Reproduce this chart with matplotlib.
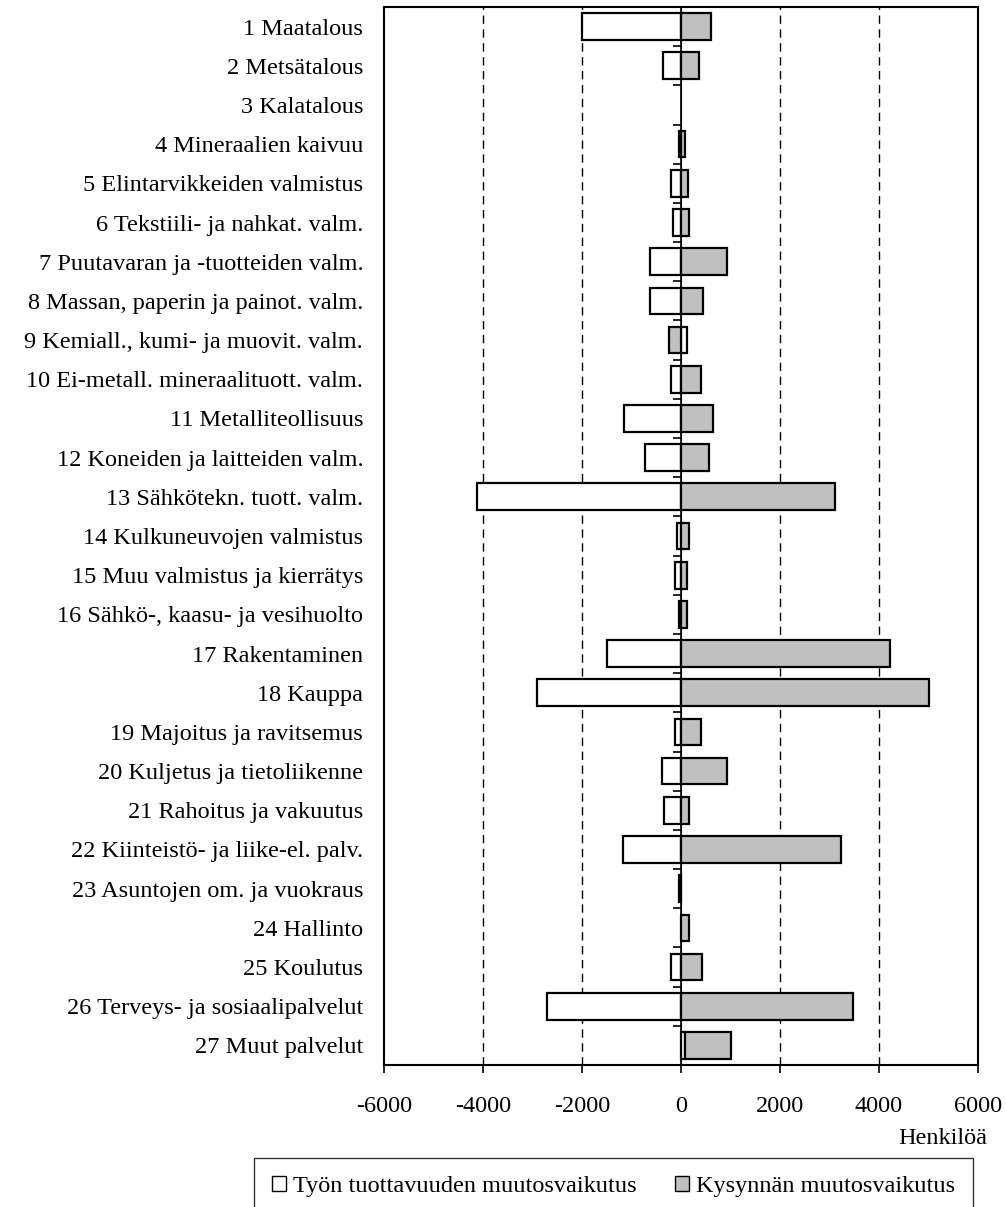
import numpy as np
import matplotlib
matplotlib.use('Agg')
import matplotlib.pyplot as plt
from matplotlib.patches import Patch

#------------------------------------------------------------------------------
# DATA
#------------------------------------------------------------------------------

categories = ['1 Maatalous', '2 Metsätalous', '3 Kalatalous', '4 Mineraalien kaivuu',
              '5 Elintarvikkeiden valmistus', '6 Tekstiili- ja nahkat. valm.',
              '7 Puutavaran ja -tuotteiden valm.', '8 Massan, paperin ja painot. valm.',
              '9 Kemiall., kumi- ja muovit. valm.', '10 Ei-metall. mineraalituott. valm.',
              '11 Metalliteollisuus', '12 Koneiden ja laitteiden valm.',
              '13 Sähkötekn. tuott. valm.', '14 Kulkuneuvojen valmistus',
              '15 Muu valmistus ja kierrätys', '16 Sähkö-, kaasu- ja vesihuolto',
              '17 Rakentaminen', '18 Kauppa', '19 Majoitus ja ravitsemus',
              '20 Kuljetus ja tietoliikenne', '21 Rahoitus ja vakuutus',
              '22 Kiinteistö- ja liike-el. palv.', '23 Asuntojen om. ja vuokraus',
              '24 Hallinto', '25 Koulutus', '26 Terveys- ja sosiaalipalvelut',
              '27 Muut palvelut']

# tyon tuottavuuden muutosvaikutus (white)
productivity = [-2000, -367, 0, -48, -211, -170, -619, -619, 127, -207,
                -1160, -727, -4127, -88, -129, -48, -1490, -2900, -128, -375,
                -335, -1173, -50, 0, -211, -2713, 82]
# kysynnan muutosvaikutus (gray)
demand = [600, 367, 0, 88, 136, 163, 927, 449, -247, 407,
          640, 571, 3102, 170, 129, 129, 4230, 5000, 400, 934,
          160, 3232, 0, 170, 415, 3472, 926]

xticks = [-6000, -4000, -2000, 0, 2000, 4000, 6000]
labels_legend = ['Työn tuottavuuden muutosvaikutus', 'Kysynnän muutosvaikutus']

#------------------------------------------------------------------------------
# PLOT
#------------------------------------------------------------------------------

plt.rcParams['font.family'] = ['Liberation Serif', 'DejaVu Serif']
fs = 17.5

W, H = 1006, 1207
fig = plt.figure(figsize=(W/100, H/100), dpi=100)
ax = fig.add_axes([384/W, 1-1065/H, 594/W, 1058/H])

p = np.array(productivity, dtype=float)
d = np.array(demand, dtype=float)
y = np.arange(len(categories))

# excel-style stacking: same-sign values stack, opposite signs start from 0
d_left = np.where(np.sign(p) == np.sign(d), p, 0.0)

lw_p = np.where(p == 0, 0.0, 1.6)
lw_d = np.where(d == 0, 0.0, 1.6)
ax.barh(y, p, height=0.68, color='white', edgecolor='black', linewidth=lw_p, zorder=3)
ax.barh(y, d, left=d_left, height=0.68, color='#c0c0c0', edgecolor='black', linewidth=lw_d, zorder=3)

ax.set_xlim(-6000, 6000)
ax.set_ylim(len(categories)-0.5, -0.5)

# grid
for xv in xticks[1:-1]:
    if xv != 0:
        ax.axvline(xv, color='black', lw=1.0, ls=(0, (6, 4)), zorder=1)
ax.axvline(0, color='black', lw=1.2, zorder=4)

ax.set_xticks(xticks)
ax.set_xticklabels([str(v) for v in xticks], fontsize=fs)
ax.tick_params(axis='x', direction='out', length=6, width=1.2, pad=16)

ax.set_yticks(y)
ax.set_yticklabels(categories, fontsize=fs)
ax.tick_params(axis='y', length=0, pad=15)

# category boundary ticks on the zero axis
sec = ax.secondary_yaxis(0.5)
sec.set_yticks(np.arange(len(categories)-1) + 0.5)
sec.set_yticklabels([])
sec.tick_params(axis='y', direction='in', length=6, width=1.2)
sec.spines['left'].set_visible(False)

for s in ax.spines.values():
    s.set_linewidth(1.5)

fig.text(987/W, 1-1138/H, 'Henkilöä', ha='right', va='center', fontsize=fs)

handles = [Patch(facecolor='white', edgecolor='black', linewidth=1.0),
           Patch(facecolor='#c0c0c0', edgecolor='black', linewidth=1.0)]
leg = fig.legend(handles, labels_legend, loc='upper left',
                 bbox_to_anchor=(254/W, 1-1158/H), ncol=2, fontsize=fs,
                 frameon=True, fancybox=False, edgecolor='black',
                 handlelength=0.55, handleheight=0.55, handletextpad=0.3,
                 columnspacing=1.6, borderpad=0.75, borderaxespad=0)
leg.get_frame().set_linewidth(1.0)

fig.savefig('out.png', dpi=100)
print('** END')
